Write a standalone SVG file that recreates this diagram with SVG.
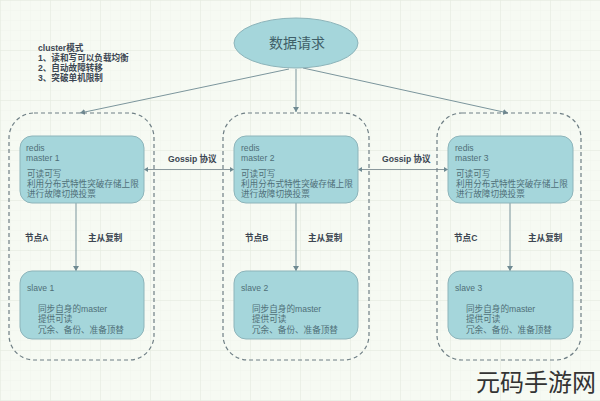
<svg xmlns="http://www.w3.org/2000/svg" width="600" height="401" viewBox="0 0 600 401">
<style>
text{font-family:"Liberation Sans","Noto Sans CJK SC",sans-serif;font-size:8.6px;fill:#4f6f78}
.b{font-weight:bold;fill:#3c4652}
.box{fill:#a5d6db;stroke:#8db4ba;stroke-width:1}
.group{fill:none;stroke:#6f7f85;stroke-width:1.2;stroke-dasharray:4 3}
.c{stroke:#7b959c;stroke-width:1;fill:none;marker-end:url(#a)}
.g{stroke:#6f7f85;stroke-width:.8;fill:none;marker-start:url(#s);marker-end:url(#a)}
</style>
<defs>
<marker id="a" markerWidth="6" markerHeight="6" refX="5" refY="3" orient="auto"><path d="M0 0L5 3L0 6z" fill="#6f8a92"/></marker>
<marker id="s" markerWidth="6" markerHeight="6" refX="0" refY="3" orient="auto"><path d="M5 0L0 3L5 6z" fill="#6f8a92"/></marker>
<pattern id="p" width="10" height="10" patternUnits="userSpaceOnUse"><path d="M10 0H0V10" fill="none" stroke="#eaf0e6" stroke-width=".6"/></pattern>
<pattern id="q" width="50" height="50" patternUnits="userSpaceOnUse"><path d="M50 0H0V50" fill="none" stroke="#e3eade" stroke-width="1"/></pattern>
</defs>
<rect width="600" height="401" fill="#f6faf3"/>
<rect width="600" height="401" fill="url(#p)"/>
<rect width="600" height="401" fill="url(#q)"/>
<g id="connectors">
<path class="c" d="M289 69L80 113"/>
<path class="c" d="M296 69V112"/>
<path class="c" d="M303 68L508 113"/>
<path class="g" d="M144 169.500H234"/>
<path class="g" d="M358 169.500H448"/>
<path class="c" d="M76 203V271"/>
<path class="c" d="M296 203V271"/>
<path class="c" d="M510 203V271"/>
</g>
<g id="request"><ellipse class="box" cx="296" cy="43" rx="62" ry="25"/><text x="297" y="48" text-anchor="middle" style="font-size:14px;fill:#3f5f68">数据请求</text></g>
<g id="note"><text class="b" x="38" y="51">cluster模式</text><text class="b" x="38" y="61">1、读和写可以负载均衡</text><text class="b" x="38" y="71">2、自动故障转移</text><text class="b" x="38" y="81">3、突破单机限制</text></g>
<g id="group-a"><rect class="group" x="9" y="113" width="145" height="247" rx="25"/></g>
<g id="group-b"><rect class="group" x="223" y="113" width="146" height="247" rx="25"/></g>
<g id="group-c"><rect class="group" x="437" y="113" width="144" height="247" rx="25"/></g>
<g id="master-1"><rect class="box" x="20" y="136" width="124" height="67" rx="12"/><text x="26" y="151">redis</text><text x="26" y="161">master 1</text><text x="27" y="177">可读可写</text><text x="27" y="187">利用分布式特性突破存储上限</text><text x="27" y="197">进行故障切换投票</text></g>
<g id="master-2"><rect class="box" x="234" y="136" width="124" height="67" rx="12"/><text x="241" y="151">redis</text><text x="241" y="161">master 2</text><text x="241" y="177">可读可写</text><text x="241" y="187">利用分布式特性突破存储上限</text><text x="241" y="197">进行故障切换投票</text></g>
<g id="master-3"><rect class="box" x="448" y="136" width="125" height="67" rx="12"/><text x="455" y="151">redis</text><text x="455" y="161">master 3</text><text x="456" y="177">可读可写</text><text x="456" y="187">利用分布式特性突破存储上限</text><text x="456" y="197">进行故障切换投票</text></g>
<g id="slave-1"><rect class="box" x="20" y="271" width="124" height="68" rx="12"/><text x="27" y="291">slave 1</text><text x="38" y="312">同步自身的master</text><text x="38" y="322">提供可读</text><text x="38" y="333">冗余、备份、准备顶替</text></g>
<g id="slave-2"><rect class="box" x="234" y="271" width="124" height="68" rx="12"/><text x="241" y="291">slave 2</text><text x="252" y="312">同步自身的master</text><text x="252" y="322">提供可读</text><text x="252" y="333">冗余、备份、准备顶替</text></g>
<g id="slave-3"><rect class="box" x="448" y="271" width="125" height="68" rx="12"/><text x="455" y="291">slave 3</text><text x="466" y="312">同步自身的master</text><text x="466" y="322">提供可读</text><text x="466" y="333">冗余、备份、准备顶替</text></g>
<g id="labels">
<text class="b" x="168" y="162">Gossip 协议</text><text class="b" x="382" y="162">Gossip 协议</text>
<text class="b" x="25" y="241">节点A</text><text class="b" x="88" y="241">主从复制</text>
<text class="b" x="245" y="241">节点B</text><text class="b" x="308" y="241">主从复制</text>
<text class="b" x="454" y="241">节点C</text><text class="b" x="528" y="241">主从复制</text>
</g>
<text x="476" y="391" style="font-size:24px;fill:#333">元码手游网</text>
</svg>
